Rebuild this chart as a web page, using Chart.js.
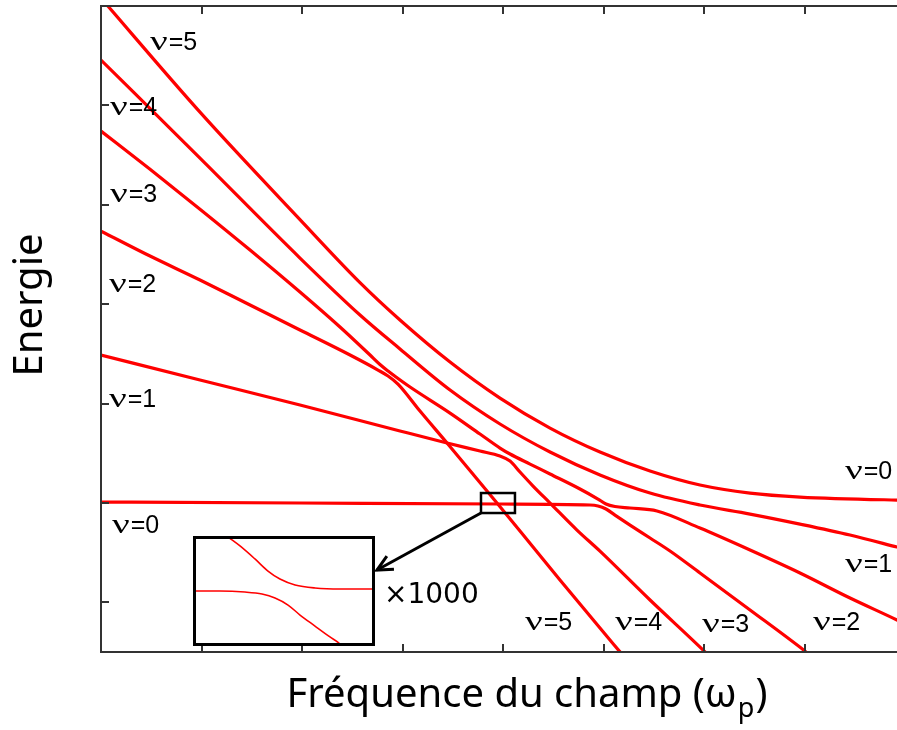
<!DOCTYPE html>
<html><head><meta charset="utf-8">
<script src="https://cdn.jsdelivr.net/npm/chart.js@4.4.1/dist/chart.umd.min.js"></script>
<style>
html,body{margin:0;padding:0;background:#fff;overflow:hidden;width:897px;height:730px;}
#wrap{position:absolute;left:0;top:0;width:910px;height:730px;}
#inset{position:absolute;left:193px;top:536px;width:176px;height:104px;border:3px solid #000;background:#fff;overflow:hidden;}
</style></head><body>
<div id="wrap"><canvas id="c" width="910" height="730"></canvas></div>
<div id="inset"><canvas id="ci" width="176" height="104"></canvas></div>
<script>
// ---- main chart data (x: field frequency, y: energy) ----
const freqA = [0, 0.985, 1.980, 2.577, 2.975, 3.473, 3.970, 4.468, 4.965, 5.463, 5.960, 6.458, 6.955, 7.920, 8.0];
const enerA = [5.08, 3.932, 2.851, 2.217, 1.841, 1.418, 1.055, 0.753, 0.512, 0.321, 0.180, 0.099, 0.059, 0.029, 0.028];

const freqB = [0, 0.985, 1.980, 2.577, 2.975, 3.473, 3.970, 4.468, 4.965, 5.463, 5.960, 6.458, 6.955, 7.453, 7.920, 8.0];
const enerB = [4.456, 3.469, 2.464, 1.891, 1.549, 1.136, 0.794, 0.512, 0.281, 0.099, -0.021, -0.112, -0.213, -0.323, -0.444, -0.465];

const freqC = [0, 0.488, 0.985, 1.483, 1.980, 2.378, 2.677, 2.776, 2.856, 2.935, 3.075, 3.473, 3.771, 3.970, 4.070, 4.269, 4.468, 4.766, 4.945, 5.025, 5.114, 5.264, 5.532, 5.960, 6.458, 6.955, 7.453, 7.920, 8.0];
const enerC = [3.741, 3.358, 2.956, 2.545, 2.122, 1.770, 1.488, 1.393, 1.327, 1.267, 1.166, 0.904, 0.693, 0.552, 0.492, 0.391, 0.291, 0.140, 0.039, -0.011, -0.036, -0.051, -0.081, -0.253, -0.474, -0.705, -0.957, -1.178, -1.218];

const freqD = [0, 0.488, 0.985, 1.483, 1.980, 2.478, 2.756, 2.856, 2.955, 3.174, 3.443, 3.692, 3.940, 4.169, 4.567, 5.164, 5.264];
const enerD = [2.735, 2.484, 2.243, 1.991, 1.740, 1.488, 1.337, 1.277, 1.196, 0.925, 0.603, 0.301, -0.001, -0.283, -0.776, -1.499, -1.619];

const freqE = [0, 0.985, 1.980, 2.975, 3.443, 3.771, 3.970, 4.070, 4.169, 4.299, 4.468, 4.736, 4.965, 5.463, 6.010, 6.109];
const enerE = [1.488, 1.237, 0.985, 0.724, 0.603, 0.522, 0.472, 0.422, 0.311, 0.170, -0.001, -0.273, -0.485, -0.977, -1.499, -1.600];

const freqF = [0, 1.980, 3.970, 4.866, 4.945, 5.025, 5.114, 5.264, 5.463, 5.662, 5.960, 6.458, 7.015, 7.114];
const enerF = [0.009, -0.001, -0.011, -0.021, -0.031, -0.061, -0.122, -0.223, -0.353, -0.484, -0.705, -1.077, -1.499, -1.580];

// state labels (nu value, anchor x, anchor y in data units)
const labelNu = ['5', '4', '3', '2', '1', '0', '0', '1', '5', '4', '3', '2'];
const labelX  = [0.488, 0.090, 0.090, 0.080, 0.080, 0.109, 7.403, 7.403, 4.219, 5.114, 5.980, 7.085];
const labelY  = [4.556, 3.902, 3.027, 2.122, 0.965, -0.303, 0.240, -0.695, -1.279, -1.279, -1.297, -1.279];

// zoom box (data units) and arrow tip
const zoomBoxX = [3.781, 4.119];
const zoomBoxY = [0.0996, -0.1016];
const arrowTip = [2.746, -0.675];
const zoomText = '×1000';
const zoomTextPos = [2.816, -1.007];

// ---- inset data (magnified region) ----
const insetUpperX = [18.2, 25.0, 33.5, 40.9, 47.7, 56.3, 67.6, 81.8, 100.6];
const insetUpperY = [101.9, 93.3, 80.8, 69.2, 61.5, 55.8, 52.9, 51.9, 51.9];
const insetLowerX = [0, 13.6, 27.8, 37.5, 44.9, 52.3, 59.1, 67.6, 76.1, 81.8, 84.7];
const insetLowerY = [50, 50, 49, 47.1, 43.3, 36.5, 26.9, 16.3, 5.8, -1, -6.7];

const xTitle = 'Fréquence du champ (ω';
const xTitleSub = 'p';
const yTitle = 'Energie';

const pts = (xs, ys) => xs.map((x, i) => ({x: x, y: ys[i]}));
const lineDs = (xs, ys, w) => ({data: pts(xs, ys), borderColor: '#ff0000', borderWidth: w, pointRadius: 0, fill: false, cubicInterpolationMode: 'monotone', borderJoinStyle: 'round', borderCapStyle: 'round'});

const frameColor = '#333333';
const titleFont = '"Noto Sans"';

const deco = {
  id: 'deco',
  afterDatasetsDraw(chart) {
    const ctx = chart.ctx, a = chart.chartArea, xs = chart.scales.x, ys = chart.scales.y;
    ctx.save();
    // frame
    ctx.strokeStyle = frameColor; ctx.lineWidth = 2;
    ctx.beginPath();
    ctx.moveTo(a.right, a.top); ctx.lineTo(a.left, a.top); ctx.lineTo(a.left, a.bottom); ctx.lineTo(a.right, a.bottom);
    ctx.stroke();
    // ticks inward
    ctx.lineWidth = 2;
    ctx.beginPath();
    xs.ticks.forEach(t => {
      if (t.value <= xs.min || t.value >= xs.max) return;
      const px = Math.round(xs.getPixelForValue(t.value));
      ctx.moveTo(px, a.bottom); ctx.lineTo(px, a.bottom - 8);
      ctx.moveTo(px, a.top); ctx.lineTo(px, a.top + 8);
    });
    ys.ticks.forEach(t => {
      if (t.value <= ys.min || t.value >= ys.max || Math.abs(t.value - Math.round(t.value)) > 1e-6) return;
      const py = Math.round(ys.getPixelForValue(t.value));
      ctx.moveTo(a.left, py); ctx.lineTo(a.left + 8, py);
    });
    ctx.stroke();
    // zoom box
    ctx.strokeStyle = '#000'; ctx.lineWidth = 2.5;
    const bx0 = xs.getPixelForValue(zoomBoxX[0]), bx1 = xs.getPixelForValue(zoomBoxX[1]);
    const by0 = ys.getPixelForValue(zoomBoxY[0]), by1 = ys.getPixelForValue(zoomBoxY[1]);
    ctx.strokeRect(bx0, by0, bx1 - bx0, by1 - by0);
    // arrow
    const tx = xs.getPixelForValue(arrowTip[0]), ty = ys.getPixelForValue(arrowTip[1]);
    ctx.lineWidth = 3;
    ctx.beginPath(); ctx.moveTo(bx0, by1); ctx.lineTo(tx, ty); ctx.stroke();
    const ang = Math.atan2(ty - by1, tx - bx0);
    ctx.beginPath();
    ctx.moveTo(tx - 17 * Math.cos(ang - 0.45), ty - 17 * Math.sin(ang - 0.45));
    ctx.lineTo(tx, ty);
    ctx.lineTo(tx - 17 * Math.cos(ang + 0.45), ty - 17 * Math.sin(ang + 0.45));
    ctx.stroke();
    // labels
    ctx.fillStyle = '#000'; ctx.textBaseline = 'alphabetic'; ctx.textAlign = 'left';
    labelNu.forEach((n, i) => {
      const px = xs.getPixelForValue(labelX[i]), py = ys.getPixelForValue(labelY[i]);
      ctx.save();
      ctx.translate(px, py);
      ctx.scale(1.4, 1);
      ctx.font = '28px "Liberation Serif"';
      ctx.fillText('ν', 0, 0);
      const w = ctx.measureText('ν').width * 1.4;
      ctx.restore();
      ctx.font = '25px "Liberation Sans"';
      ctx.fillText('=' + n, px + w + 1, py);
    });
    ctx.font = '28px "DejaVu Sans"';
    ctx.fillText(zoomText, xs.getPixelForValue(zoomTextPos[0]), ys.getPixelForValue(zoomTextPos[1]));
    ctx.restore();
    // titles
    ctx.save();
    ctx.fillStyle = '#000';
    ctx.font = '40px ' + titleFont;
    const w1 = ctx.measureText(xTitle).width;
    ctx.font = '27px ' + titleFont;
    const w2 = ctx.measureText(xTitleSub).width;
    ctx.font = '40px ' + titleFont;
    const w3 = ctx.measureText(')').width;
    let sx = 526 - (w1 + w2 + w3) / 2;
    ctx.fillText(xTitle, sx, 707);
    ctx.font = '27px ' + titleFont;
    ctx.fillText(xTitleSub, sx + w1 + 1, 717);
    ctx.font = '40px ' + titleFont;
    ctx.fillText(')', sx + w1 + w2 + 2, 707);
    ctx.translate(42, 305);
    ctx.rotate(-Math.PI / 2);
    ctx.textAlign = 'center';
    ctx.fillText(yTitle, 0, 0);
    ctx.restore();
  }
};

new Chart(document.getElementById('c'), {
  type: 'line',
  data: {datasets: [
    lineDs(freqA, enerA, 3.2), lineDs(freqB, enerB, 3.2), lineDs(freqC, enerC, 3.2),
    lineDs(freqD, enerD, 3.2), lineDs(freqE, enerE, 3.2), lineDs(freqF, enerF, 3.2)
  ]},
  options: {
    responsive: false, animation: false, events: [],
    layout: {padding: {left: 101, top: 6, right: 5, bottom: 78}},
    plugins: {legend: {display: false}, tooltip: {enabled: false}},
    scales: {
      x: {type: 'linear', min: 0, max: 8, display: false, ticks: {stepSize: 1}},
      y: {type: 'linear', min: -1.5, max: 5, display: false, ticks: {stepSize: 1}}
    }
  },
  plugins: [deco]
});

new Chart(document.getElementById('ci'), {
  type: 'line',
  data: {datasets: [lineDs(insetUpperX, insetUpperY, 1.6), lineDs(insetLowerX, insetLowerY, 1.6)]},
  options: {
    responsive: false, animation: false, events: [],
    layout: {padding: 0},
    plugins: {legend: {display: false}, tooltip: {enabled: false}},
    scales: {
      x: {type: 'linear', min: 0, max: 100, display: false},
      y: {type: 'linear', min: 0, max: 100, display: false}
    }
  }
});
</script></body></html>
